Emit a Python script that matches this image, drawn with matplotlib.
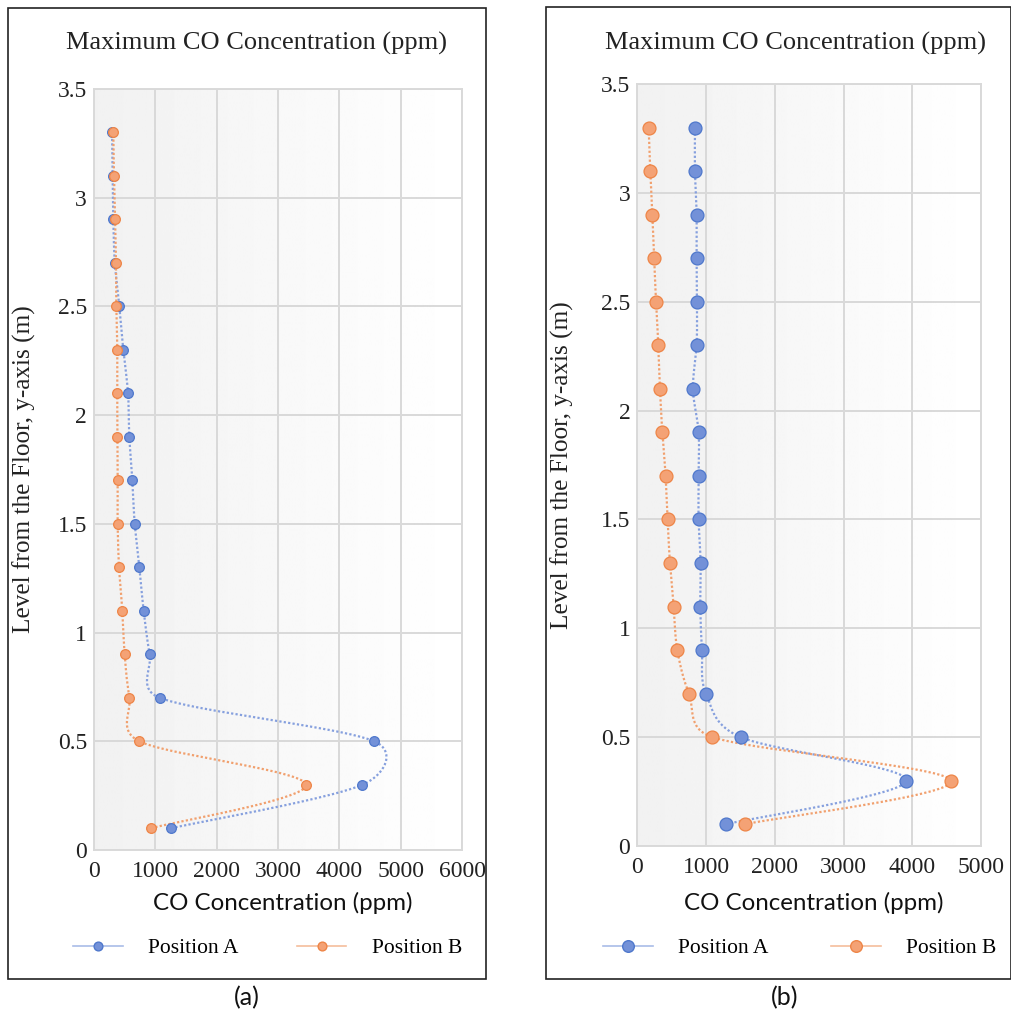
import numpy as np
import matplotlib
matplotlib.use('Agg')
import matplotlib.pyplot as plt
from matplotlib.lines import Line2D
from matplotlib.patches import Rectangle
from matplotlib.ticker import FuncFormatter, MultipleLocator

# ---------------- data ----------------
heights = [0.1, 0.3, 0.5, 0.7, 0.9, 1.1, 1.3, 1.5, 1.7, 1.9, 2.1, 2.3, 2.5, 2.7, 2.9, 3.1, 3.3]
a_posA = [1256, 4377, 4568, 1071, 908, 810, 739, 664, 625, 576, 555, 478, 413, 340, 315, 305, 294]
a_posB = [930, 3458, 739, 576, 500, 462, 408, 386, 386, 380, 380, 380, 364, 359, 343, 326, 315]
b_posA = [1286, 3916, 1504, 1000, 941, 917, 921, 892, 892, 892, 810, 863, 868, 863, 863, 839, 839]
b_posB = [1563, 4566, 1091, 752, 582, 529, 475, 441, 412, 364, 330, 306, 272, 247, 218, 189, 165]
series_names = ["Position A", "Position B"]
title_text = "Maximum CO Concentration (ppm)"
xlabel_text = "CO Concentration (ppm)"
ylabel_text = "Level from the Floor, y-axis (m)"
panel_labels = ["(a)", "(b)"]

BLUE_F, BLUE_E, BLUE_L = '#7391D8', '#4F78CC', '#86A0DE'
ORG_F, ORG_E, ORG_L = '#F4A275', '#EE8547', '#F1A06E'
SERIF = 'Liberation Serif'
SANS = 'Lato'

W, H = 1012, 1015
fig = plt.figure(figsize=(W / 100, H / 100), dpi=100)
fig.patch.set_facecolor('white')


def fx(px):
    return px / W


def fy(py):
    return 1 - py / H


def smooth(ax, xs, ys, tension=1 / 6, clamp=0.55, n=40):
    pts = ax.transData.transform(np.column_stack([xs, ys]))
    m = len(pts)
    out = []
    for i in range(m - 1):
        p0 = pts[i - 1] if i > 0 else pts[i]
        p1, p2 = pts[i], pts[i + 1]
        p3 = pts[i + 2] if i + 2 < m else pts[i + 1]
        d12 = np.linalg.norm(p2 - p1)
        o1 = (p2 - p0) * tension
        o2 = (p3 - p1) * tension
        for o in (o1, o2):
            ln = np.linalg.norm(o)
            if ln > clamp * d12 and ln > 0:
                o *= clamp * d12 / ln
        c1 = p1 + o1
        c2 = p2 - o2
        s = np.linspace(0, 1, n)[:, None]
        seg = ((1 - s) ** 3) * p1 + 3 * ((1 - s) ** 2) * s * c1 + 3 * (1 - s) * s ** 2 * c2 + s ** 3 * p2
        out.append(seg if i == 0 else seg[1:])
    out = np.vstack(out)
    d = ax.transData.inverted().transform(out)
    return d[:, 0], d[:, 1]


def panel(idx, rect_px, box_px, xmax, sa, sb, ms, leg_x, leg_y, lab_x, title_cx, colsp):
    l, t, r, b = rect_px
    ax = fig.add_axes([fx(l), fy(b), fx(r - l), (b - t) / H])
    grad = np.linspace(0.945, 1.0, 256)
    ax.imshow(np.vstack([grad, grad]), extent=[0, 1, 0, 1], transform=ax.transAxes,
              aspect='auto', cmap='gray', vmin=0, vmax=1, zorder=0, interpolation='bilinear')
    ax.set_xlim(0, xmax)
    ax.set_ylim(0, 3.5)
    ax.set_autoscale_on(False)
    ax.xaxis.set_major_locator(MultipleLocator(1000))
    ax.yaxis.set_major_locator(MultipleLocator(0.5))
    ax.xaxis.set_major_formatter(FuncFormatter(lambda v, p: f"{v:g}"))
    ax.yaxis.set_major_formatter(FuncFormatter(lambda v, p: f"{v:g}"))
    ax.set_axisbelow(True)
    ax.grid(True, color='#D9D9D9', lw=1.4, zorder=0.5)
    for sp in ax.spines.values():
        sp.set_color('#D9D9D9')
        sp.set_linewidth(1.4)
    ax.tick_params(length=0, labelsize=17, colors='#222222')
    ax.tick_params(axis='y', pad=5)
    ax.tick_params(axis='x', pad=8)
    for lab in ax.get_xticklabels() + ax.get_yticklabels():
        lab.set_fontfamily(SERIF)

    for xs, fc, ec, lc in [(sa, BLUE_F, BLUE_E, BLUE_L), (sb, ORG_F, ORG_E, ORG_L)]:
        cx, cy = smooth(ax, xs, heights)
        ax.plot(cx, cy, ls=(0, (1, 1)), lw=1.6, color=lc, zorder=2)
        ax.plot(xs, heights, ls='none', marker='o', ms=ms, mfc=fc, mec=ec, mew=0.9, zorder=3)

    bl, bt, br, bb = box_px
    fig.add_artist(Rectangle((fx(bl), fy(bb)), fx(br - bl), (bb - bt) / H,
                             transform=fig.transFigure, fill=False, ec='#222222', lw=1.2))
    cxm = (l + r) / 2
    fig.text(fx(title_cx), fy(43), title_text, ha='center', va='center',
             fontsize=19, family=SERIF, color='#222222')
    fig.text(fx(cxm + 5), fy(903), xlabel_text, ha='center', va='center',
             fontsize=17.4, family=SANS, color='#111111')
    fig.text(fx(bl + 16), fy((t + b) / 2), ylabel_text, ha='center', va='center',
             rotation=90, fontsize=18.2, family=SERIF, color='#222222')

    handles = [Line2D([], [], color='#A9BCE8', lw=1.2, marker='o', ms=ms * 0.9, mfc=BLUE_F, mec=BLUE_E),
               Line2D([], [], color='#F5BE9C', lw=1.2, marker='o', ms=ms * 0.9, mfc=ORG_F, mec=ORG_E)]
    ax.legend(handles, series_names, ncol=2, frameon=False, loc='center left',
              bbox_to_anchor=((leg_x - l) / (r - l), (b - leg_y) / (b - t)),
              borderpad=0, borderaxespad=0, handlelength=2.3, handletextpad=1.2,
              columnspacing=colsp, prop={'family': SERIF, 'size': 15.5})
    fig.text(fx(lab_x), fy(998), panel_labels[idx],
             ha='center', va='center', fontsize=18, family=SANS, color='#111111')
    return ax


panel(0, (94, 89, 462, 850), (8, 8, 486, 979), 6000, a_posA, a_posB, 7, 73, 948, 247, 257, 2.7)
panel(1, (637.3, 84, 981, 846), (546, 7, 1011, 979), 5000, b_posA, b_posB, 9.3, 603, 948, 785, 796, 2.9)

fig.savefig('out.png', dpi=100, facecolor='white')
